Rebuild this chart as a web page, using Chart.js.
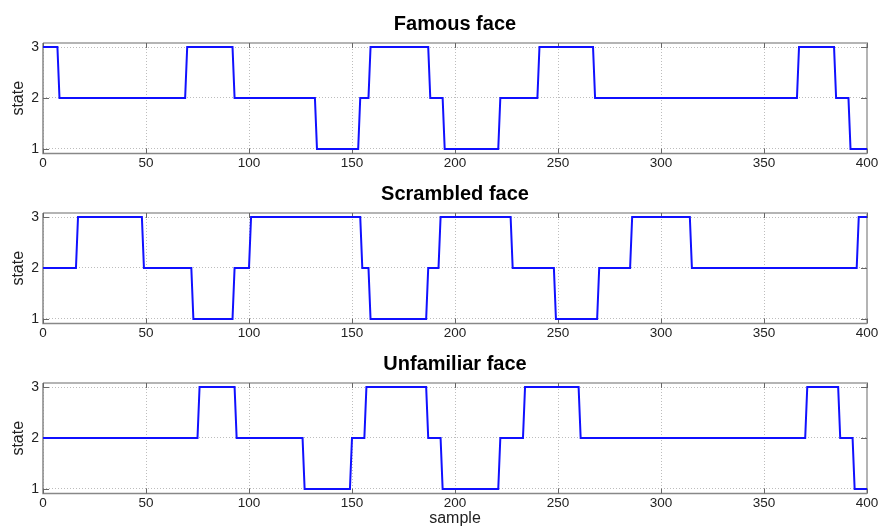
<!DOCTYPE html>
<html><head><meta charset="utf-8">
<script src="https://cdn.jsdelivr.net/npm/chart.js@4"></script>
<style>
html,body{margin:0;padding:0;background:#fff;}
#wrap{position:relative;width:878px;height:528px;overflow:hidden;background:#fff;}
canvas{position:absolute;left:0;}
</style></head><body>
<div id="wrap">
<canvas id="c1" width="878" height="170" style="top:0px"></canvas>
<canvas id="c2" width="878" height="170" style="top:170px"></canvas>
<canvas id="c3" width="878" height="188" style="top:340px"></canvas>
</div>
<script>
// ---- data ----
const titles = ["Famous face", "Scrambled face", "Unfamiliar face"];
const xTicks = [0, 50, 100, 150, 200, 250, 300, 350, 400];
const yTicks = [1, 2, 3];

const famousX = [0,7,8,69,70,92,93,132,133,153,154,158,159,187,188,194,195,221,222,240,241,267,268,366,367,384,385,391,392,400];
const famousY = [3,3,2,2,3,3,2,2,1,1,2,2,3,3,2,2,1,1,2,2,3,3,2,2,3,3,2,2,1,1];

const scrambledX = [0,16,17,48,49,72,73,92,93,100,101,154,155,158,159,186,187,192,193,227,228,248,249,269,270,285,286,314,315,395,396,400];
const scrambledY = [2,2,3,3,2,2,1,1,2,2,3,3,2,2,1,1,2,2,3,3,2,2,1,1,2,2,3,3,2,2,3,3];

const unfamiliarX = [0,75,76,93,94,126,127,149,150,156,157,186,187,193,194,221,222,233,234,260,261,370,371,386,387,393,394,400];
const unfamiliarY = [2,2,3,3,2,2,1,1,2,2,3,3,2,2,1,1,2,2,3,3,2,2,3,3,2,2,1,1];

const FONT = "'Liberation Sans', Arial, sans-serif";

const boxPlugin = {
  id: 'box',
  beforeDatasetsDraw(chart) {
    const {ctx, chartArea: a, scales} = chart;
    ctx.save();
    // top / right border: lighter
    ctx.strokeStyle = '#b4b4b4';
    ctx.lineWidth = 2;
    ctx.beginPath();
    ctx.moveTo(a.left, a.top); ctx.lineTo(a.right, a.top); ctx.lineTo(a.right, a.bottom);
    ctx.stroke();
    // left / bottom axis lines: darker
    ctx.strokeStyle = '#888';
    ctx.lineWidth = 1.5;
    ctx.beginPath();
    ctx.moveTo(a.left, a.top); ctx.lineTo(a.left, a.bottom); ctx.lineTo(a.right, a.bottom);
    ctx.stroke();
    // inner tick marks
    ctx.strokeStyle = '#666';
    ctx.lineWidth = 1;
    ctx.beginPath();
    xTicks.forEach(v => {
      const px = Math.round(scales.x.getPixelForValue(v)) + 0.5;
      ctx.moveTo(px, a.bottom); ctx.lineTo(px, a.bottom - 5);
      ctx.moveTo(px, a.top); ctx.lineTo(px, a.top + 5);
    });
    yTicks.forEach(v => {
      const py = Math.round(scales.y.getPixelForValue(v)) + 0.5;
      ctx.moveTo(a.left, py); ctx.lineTo(a.left + 6, py);
      ctx.moveTo(a.right, py); ctx.lineTo(a.right - 6, py);
    });
    ctx.stroke();
    ctx.restore();
  }
};

function makeChart(id, title, xs, ys, last) {
  const data = xs.map((x, i) => ({x: x, y: ys[i]}));
  return new Chart(document.getElementById(id), {
    type: 'line',
    data: { datasets: [{ data: data, borderColor: '#1010ff', borderWidth: 2, pointRadius: 0, tension: 0, fill: false }] },
    options: {
      responsive: false,
      animation: false,
      events: [],
      layout: { padding: { left: 0, right: 11, top: 0, bottom: 0 } },
      plugins: {
        legend: { display: false },
        tooltip: { enabled: false },
        title: {
          display: true, text: title, fullSize: false, color: '#000',
          font: { family: FONT, size: 20, weight: 'bold' },
          padding: { top: 12, bottom: 7 }
        }
      },
      scales: {
        x: {
          type: 'linear', min: 0, max: 400,
          afterBuildTicks: s => { s.ticks = xTicks.map(v => ({value: v})); },
          afterFit: s => { s.height = last ? 34.5 : 16.5; s.paddingLeft = 0; s.paddingRight = 0; },
          ticks: { color: '#222', font: { family: FONT, size: 13.5 }, padding: 2, maxRotation: 0, autoSkip: false },
          grid: { color: '#bdbdbd', lineWidth: 1, drawTicks: false },
          border: { display: false, dash: [1, 2] },
          title: { display: last, text: 'sample', color: '#222', font: { family: FONT, size: 16 }, padding: { top: 0, bottom: 0 } }
        },
        y: {
          type: 'linear', min: 0.91, max: 3.08,
          afterBuildTicks: s => { s.ticks = yTicks.map(v => ({value: v})); },
          afterFit: s => { s.width = 43; s.paddingTop = 0; s.paddingBottom = 0; },
          ticks: { color: '#222', font: { family: FONT, size: 14 }, padding: 4 },
          grid: { color: '#bdbdbd', lineWidth: 1, drawTicks: false },
          border: { display: false, dash: [1, 2] },
          title: { display: true, text: 'state', color: '#222', font: { family: FONT, size: 16 }, padding: { top: 9, bottom: 0 } }
        }
      }
    },
    plugins: [boxPlugin]
  });
}

makeChart('c1', titles[0], famousX, famousY, false);
makeChart('c2', titles[1], scrambledX, scrambledY, false);
makeChart('c3', titles[2], unfamiliarX, unfamiliarY, true);
</script>
</body></html>
